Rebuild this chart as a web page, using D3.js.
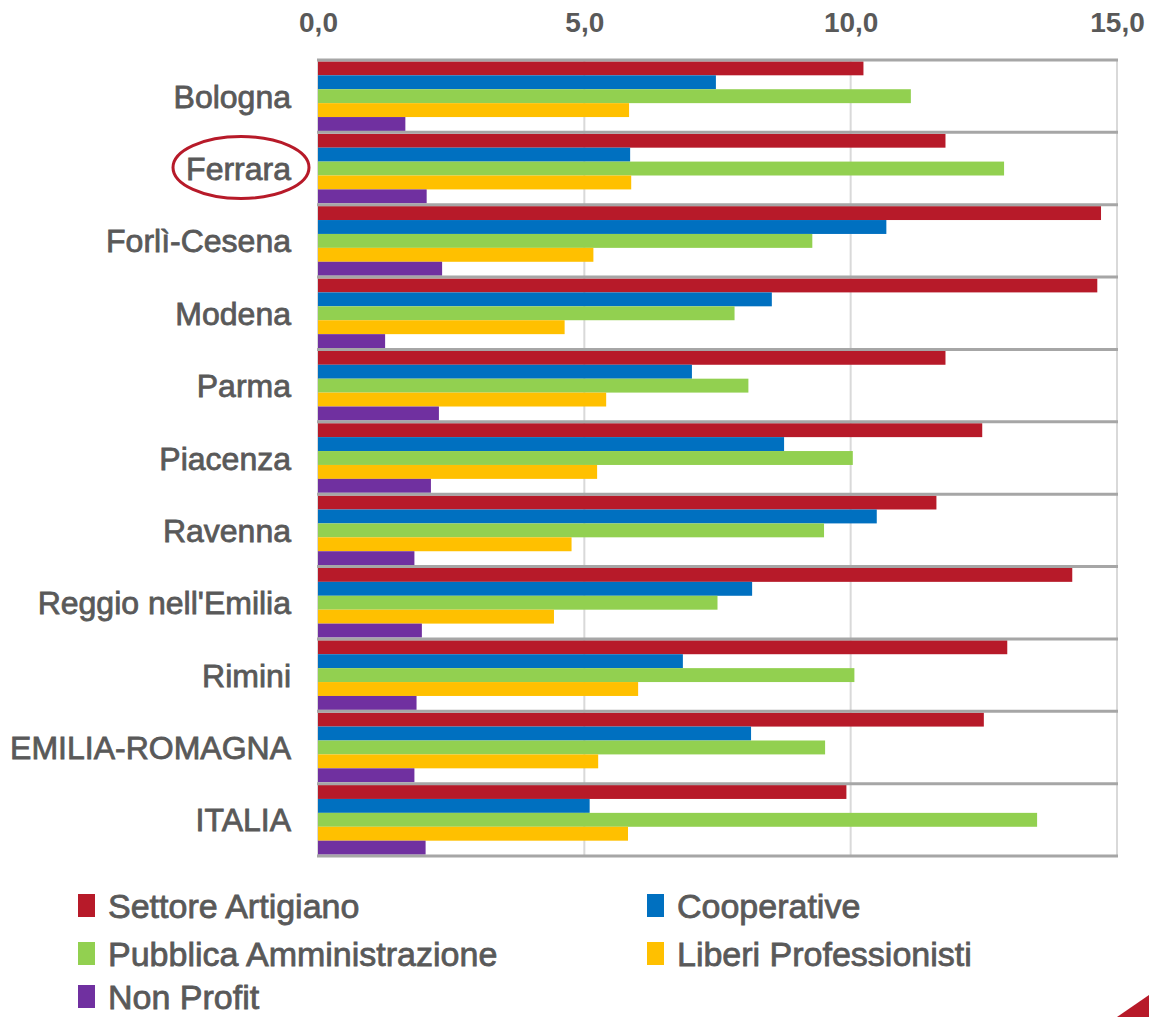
<!DOCTYPE html>
<html>
<head>
<meta charset="utf-8">
<script src="https://cdn.jsdelivr.net/npm/d3@7"></script>
<style>
  body { margin: 0; background: #fff; }
  text { font-family: "Liberation Sans", Arial, sans-serif; }
</style>
</head>
<body>
<div id="chart"></div>
<script>
// categories (top to bottom) and series
var categories = ['Bologna', 'Ferrara', 'Forlì-Cesena', 'Modena', 'Parma', 'Piacenza',
  'Ravenna', "Reggio nell'Emilia", 'Rimini', 'EMILIA-ROMAGNA', 'ITALIA'];
var seriesNames = ['Settore Artigiano', 'Cooperative', 'Pubblica Amministrazione',
  'Liberi Professionisti', 'Non Profit'];
var seriesColors = ['#b71a29', '#0070c0', '#92d050', '#ffc000', '#7030a0'];

var artigiano  = [10.24, 11.78, 14.70, 14.63, 11.78, 12.47, 11.61, 14.16, 12.94, 12.50, 9.92];
var cooperative = [7.47, 5.86, 10.67, 8.52, 7.02, 8.75, 10.49, 8.15, 6.85, 8.13, 5.10];
var pubblica   = [11.13, 12.88, 9.28, 7.82, 8.08, 10.04, 9.50, 7.50, 10.07, 9.52, 13.50];
var liberi     = [5.84, 5.88, 5.17, 4.63, 5.41, 5.24, 4.76, 4.43, 6.01, 5.26, 5.82];
var nonProfit  = [1.64, 2.04, 2.33, 1.26, 2.27, 2.12, 1.81, 1.95, 1.85, 1.81, 2.02];
var seriesValues = [artigiano, cooperative, pubblica, liberi, nonProfit];

var tickValues = [0, 5, 10, 15];
var highlighted = 'Ferrara';

var width = 1149, height = 1017;
var svg = d3.select('#chart').append('svg')
    .attr('width', width)
    .attr('height', height);

var x = d3.scaleLinear().domain([0, 15]).range([318, 1117]);
var y = d3.scaleBand().domain(categories).range([60, 856]).padding(0);
var yInner = d3.scaleBand().domain(seriesNames).range([0, y.bandwidth()])
    .paddingInner(0).paddingOuter(0.1);

// vertical gridlines
svg.append('g').selectAll('line').data(tickValues).enter().append('line')
    .attr('x1', function(d) { return x(d); })
    .attr('x2', function(d) { return x(d); })
    .attr('y1', y.range()[0])
    .attr('y2', y.range()[1])
    .attr('stroke', '#d9d9d9')
    .attr('stroke-width', 2);

// bars
var rows = svg.append('g').selectAll('g').data(categories).enter().append('g')
    .attr('transform', function(d) { return 'translate(0,' + y(d) + ')'; });

rows.selectAll('rect')
  .data(function(c, i) {
    return seriesNames.map(function(s, j) { return { s: s, v: seriesValues[j][i], k: j }; });
  })
  .enter().append('rect')
    .attr('x', x(0))
    .attr('y', function(d) { return yInner(d.s); })
    .attr('width', function(d) { return x(d.v) - x(0); })
    .attr('height', yInner.bandwidth())
    .attr('fill', function(d) { return seriesColors[d.k]; });

// band separators
var seps = categories.map(function(c) { return y(c); }).concat([y.range()[1]]);
svg.append('g').selectAll('line').data(seps).enter().append('line')
    .attr('x1', x(0) - 1)
    .attr('x2', x(15) + 1)
    .attr('y1', function(d) { return d; })
    .attr('y2', function(d) { return d; })
    .attr('stroke', '#a6a6a6')
    .attr('stroke-width', 3);

// top axis
var fmt = function(d) { return d3.format('.1f')(d).replace('.', ','); };
var axis = svg.append('g')
    .attr('transform', 'translate(0,' + y.range()[0] + ')')
    .call(d3.axisTop(x).tickValues(tickValues).tickFormat(fmt).tickSize(0).tickPadding(28));
axis.select('.domain').remove();
axis.selectAll('text')
    .attr('font-family', '"Liberation Sans", Arial, sans-serif')
    .attr('font-size', 28)
    .attr('font-weight', 'bold')
    .attr('fill', '#595959');

// category labels
svg.append('g').selectAll('text').data(categories).enter().append('text')
    .attr('x', 291)
    .attr('y', function(d) { return y(d) + y.bandwidth() / 2; })
    .attr('dy', '0.36em')
    .attr('text-anchor', 'end')
    .attr('font-size', 32)
    .attr('fill', '#595959')
    .attr('stroke', '#595959')
    .attr('stroke-width', 0.8)
    .text(function(d) { return d; });

// highlight ellipse
svg.append('ellipse')
    .attr('cx', 241)
    .attr('cy', y(highlighted) + y.bandwidth() / 2 - 1)
    .attr('rx', 68)
    .attr('ry', 31)
    .attr('fill', 'none')
    .attr('stroke', '#b71a29')
    .attr('stroke-width', 3);

// legend
var legendPos = [[78, 906], [647, 906], [78, 954], [647, 954], [78, 997]];
var legend = svg.append('g').selectAll('g').data(seriesNames).enter().append('g')
    .attr('transform', function(d, i) { return 'translate(' + legendPos[i][0] + ',' + legendPos[i][1] + ')'; });
legend.append('rect')
    .attr('x', 0).attr('y', -12)
    .attr('width', 17).attr('height', 23)
    .attr('fill', function(d, i) { return seriesColors[i]; });
legend.append('text')
    .attr('x', 30)
    .attr('dy', '0.36em')
    .attr('font-size', 34)
    .attr('fill', '#595959')
    .attr('stroke', '#595959')
    .attr('stroke-width', 0.8)
    .text(function(d) { return d; });

// corner decoration
svg.append('path')
    .attr('d', 'M1117,1017 L1149,995 L1149,1017 Z')
    .attr('fill', '#b71a29');
</script>
</body>
</html>
